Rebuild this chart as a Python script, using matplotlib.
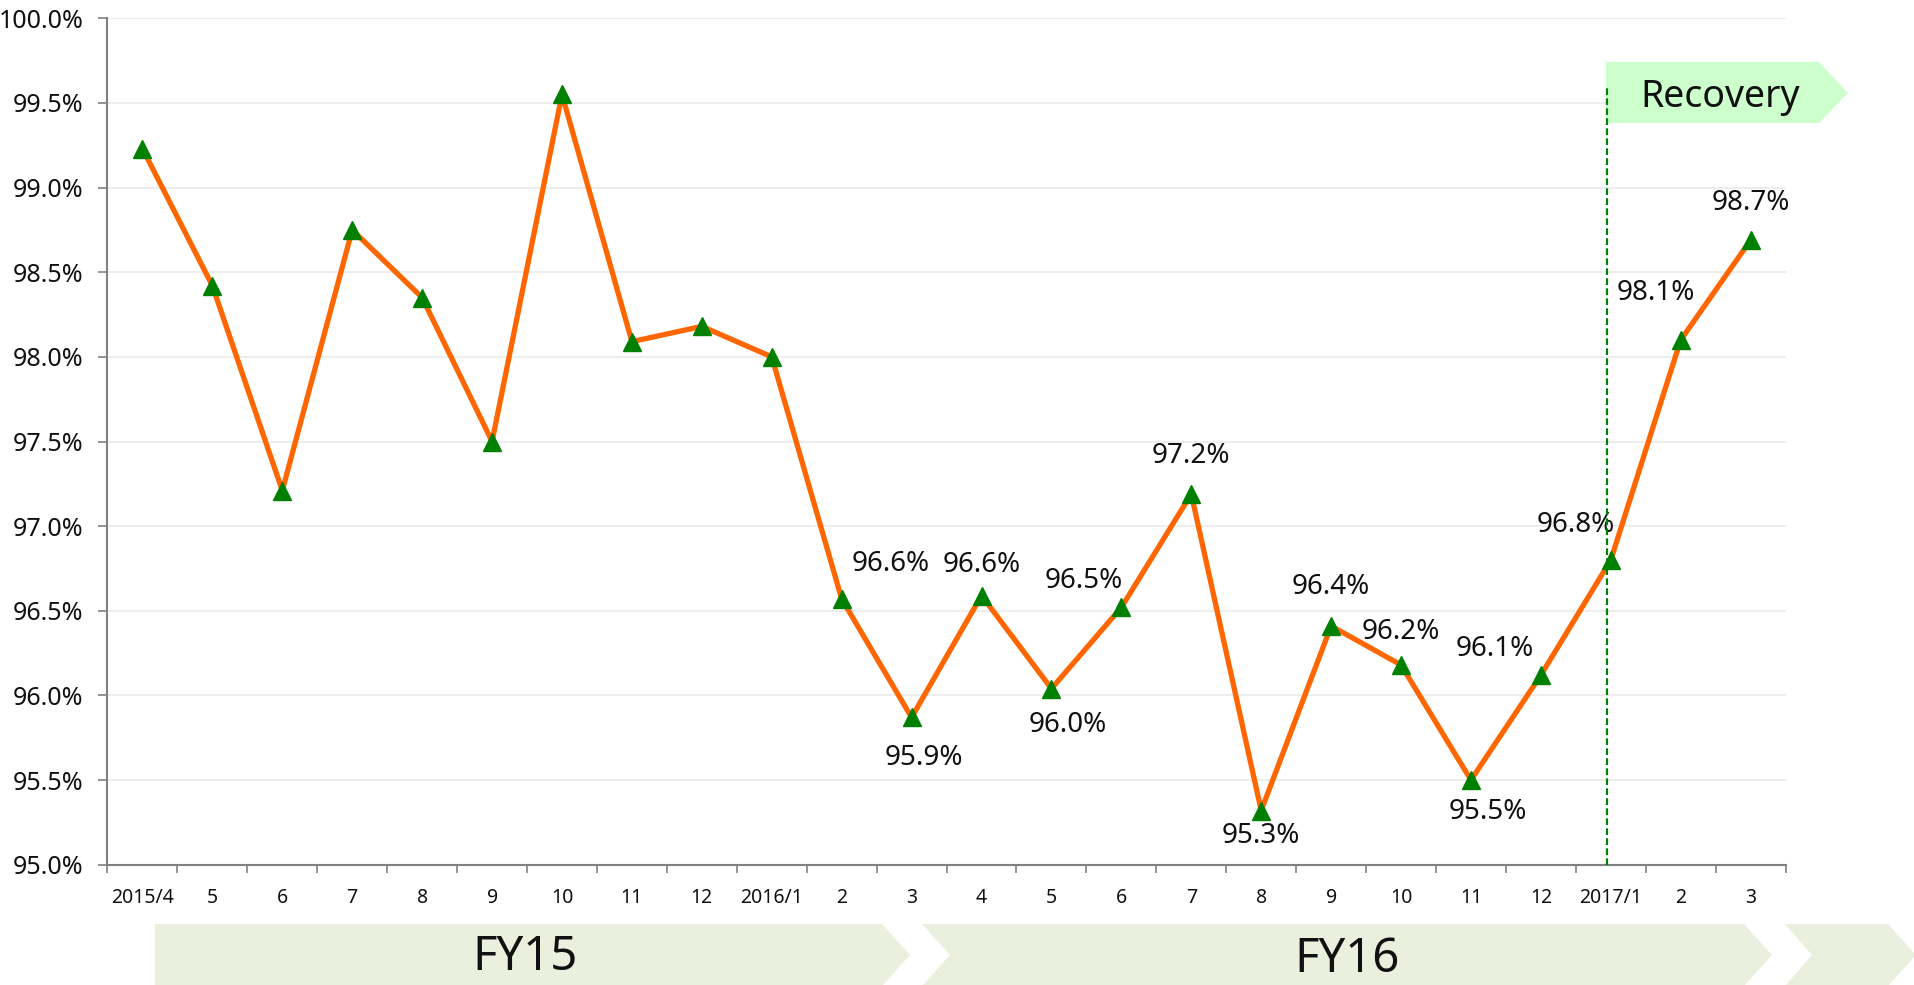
import matplotlib
matplotlib.use("Agg")
import numpy as np
import matplotlib.pyplot as plt
from matplotlib.patches import Polygon
from matplotlib.ticker import FixedLocator, FuncFormatter

# monthly values
months = ["2015/4", "5", "6", "7", "8", "9", "10", "11", "12",
          "2016/1", "2", "3", "4", "5", "6", "7", "8", "9", "10", "11", "12",
          "2017/1", "2", "3"]
rates = [99.23, 98.42, 97.21, 98.75, 98.35, 97.50, 99.55, 98.09, 98.18,
         98.00, 96.57, 95.87, 96.59, 96.04, 96.52, 97.19, 95.32, 96.41,
         96.18, 95.50, 96.12, 96.80, 98.10, 98.69]
first_labelled = 10   # only FY16 onwards carries value labels
recovery_start = 20.94
periods = ["FY15", "FY16"]

# label offsets in points, one per labelled point
label_offsets = [(35, 25), (9, -29), (0, 22), (12, -26), (-27, 19), (0, 27),
                 (0, -18), (0, 28), (0, 24), (12, -23), (-33, 19), (-25, 25),
                 (-18, 34), (0, 27)]

W, H = 1915, 985
plt.rcParams['font.family'] = ['Noto Sans', 'DejaVu Sans']

fig = plt.figure(figsize=(W / 100, H / 100), dpi=100)
ax = fig.add_axes([107.5 / W, 1 - 864.7 / H, (1785.6 - 107.5) / W, (864.7 - 18.3) / H])

x = np.arange(len(months))
ax.plot(x, rates, color='#ff6600', lw=3.8, zorder=3)
ax.plot(x, rates, ls='none', marker='^', ms=13, color='#008000', zorder=4)

for i in range(first_labelled, len(rates)):
    dx, dy = label_offsets[i - first_labelled]
    ax.annotate(f"{rates[i]:.1f}%", (x[i], rates[i]), xytext=(dx, dy),
                textcoords='offset points', ha='center', va='center',
                fontsize=20, color='#111111', zorder=5)

ax.set_xlim(-0.5, len(months) - 0.5)
ax.set_ylim(95, 100)
ax.yaxis.set_major_locator(FixedLocator(np.arange(95, 100.01, 0.5)))
ax.yaxis.set_major_formatter(FuncFormatter(lambda v, p: f"{v:.1f}%"))
ax.tick_params(axis='y', length=6.5, width=1.2, color='#808080', pad=11,
               labelsize=18, labelcolor='#111111')

ax.set_xticks(x)
ax.set_xticklabels(months)
ax.set_xticks(np.arange(-0.5, len(months)), minor=True)
ax.tick_params(axis='x', which='major', length=0, pad=17, labelsize=14,
               labelcolor='#111111')
ax.tick_params(axis='x', which='minor', length=6, width=1.2, color='#808080')

ax.grid(axis='y', color='#ececec', lw=1.3, zorder=0)
for s in ['top', 'right']:
    ax.spines[s].set_visible(False)
for s in ['left', 'bottom']:
    ax.spines[s].set_color('#808080')
    ax.spines[s].set_linewidth(1.5)

# recovery marker
ax.vlines(recovery_start, 95, 99.6, colors='#008000', lw=1.6,
          linestyles=(0, (3, 1.5)), zorder=6)


def px(points):
    return [(px_x / W, 1 - px_y / H) for px_x, px_y in points]


box = Polygon(px([(1606, 62), (1819, 62), (1848, 93), (1819, 123), (1606, 123)]),
              closed=True, transform=fig.transFigure, facecolor='#ccffcc',
              edgecolor='none', clip_on=False, zorder=5)
ax.add_patch(box)
fig.text(1720 / W, 1 - 97 / H, "Recovery", fontsize=27, ha='center', va='center',
         color='#111111')

# fiscal year chevrons along the bottom
chev_color = '#ebf0de'
chevrons = [
    [(155, 924), (882, 924), (910, 955), (882, 986), (155, 986)],
    [(922, 924), (1744, 924), (1772, 955), (1744, 986), (922, 986), (950, 955)],
    [(1785, 924), (1888, 924), (1916, 955), (1888, 986), (1785, 986), (1812, 955)],
]
for c in chevrons:
    fig.patches.append(Polygon(px(c), closed=True, transform=fig.transFigure,
                               facecolor=chev_color, edgecolor='none'))
fig.text(525 / W, 1 - 958 / H, periods[0], fontsize=34, ha='center', va='center',
         color='#111111')
fig.text(1347 / W, 1 - 960 / H, periods[1], fontsize=34, ha='center', va='center',
         color='#111111')

fig.savefig("out.png", dpi=100)
